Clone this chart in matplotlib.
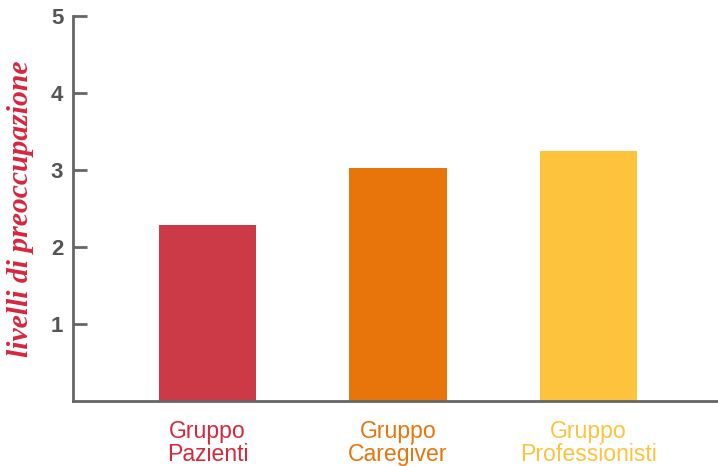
import matplotlib
matplotlib.use("Agg")
import matplotlib.pyplot as plt

categories = ["Gruppo\nPazienti", "Gruppo\nCaregiver", "Gruppo\nProfessionisti"]
values = [2.28, 3.02, 3.25]
bar_colors = ["#cc3a47", "#e8750c", "#fdc33d"]
label_colors = ["#d5283c", "#e8750c", "#fdc33d"]
yticks = [1, 2, 3, 4, 5]
ylabel = "livelli di preoccupazione"

fig = plt.figure(figsize=(7.18, 4.66), dpi=100)
ax = fig.add_axes([73/718, 65/466, 1 - 73/718, (401 - 16.0)/466])

x = list(range(len(categories)))
ax.bar(x, values, width=0.51, color=bar_colors, zorder=2)

ax.set_xlim(-0.706, 2.68)
ax.set_ylim(0, 5)
ax.set_yticks(yticks)
ax.set_yticklabels([str(t) for t in yticks], fontfamily="Liberation Sans",
                   fontweight="bold", fontsize=16, color="#555555")
ax.tick_params(axis="y", direction="in", length=10, width=2, color="#666666", pad=7)
ax.set_xticks(x)
ax.set_xticklabels(categories, fontfamily="Liberation Sans", fontsize=16.6, linespacing=1.02)
for lbl, c in zip(ax.get_xticklabels(), label_colors):
    lbl.set_color(c)
ax.tick_params(axis="x", length=0, pad=13.5)

for s in ["top", "right"]:
    ax.spines[s].set_visible(False)
for s in ["left", "bottom"]:
    ax.spines[s].set_color("#666666")
    ax.spines[s].set_linewidth(2)

ax.set_ylabel(ylabel, fontfamily="Liberation Serif", fontstyle="italic",
              fontweight="bold", fontsize=21.3, color="#d7263d")
ax.yaxis.set_label_coords(-0.060, 0.5)

fig.savefig("out.png", dpi=100, facecolor="white")
